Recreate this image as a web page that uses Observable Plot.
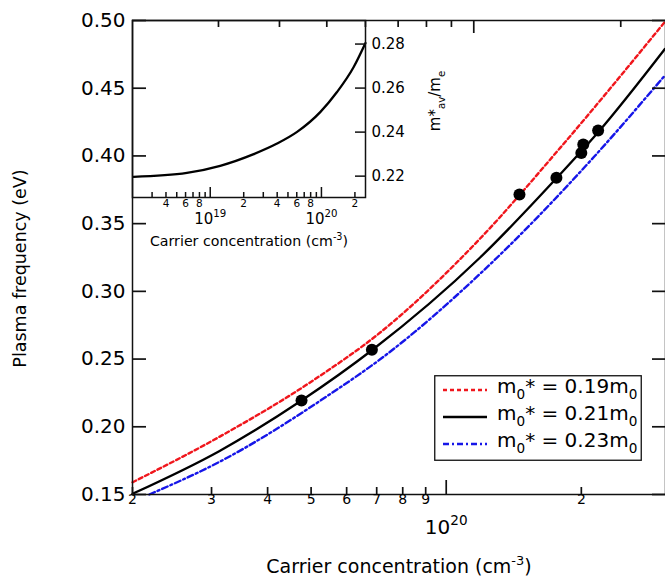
<!DOCTYPE html>
<html>
<head>
<meta charset="utf-8">
<script src="https://cdn.jsdelivr.net/npm/d3@7"></script>
<script src="https://cdn.jsdelivr.net/npm/@observablehq/plot@0.6"></script>
<style>
  html, body { margin: 0; padding: 0; background: white; overflow: hidden; }
  #wrap { position: relative; width: 665px; height: 577px; font-family: "DejaVu Sans", sans-serif; }
  #wrap > svg, #wrap > div { position: absolute; left: 0; top: 0; }
</style>
</head>
<body>
<div id="wrap"></div>
<script>
// ---------------- data ----------------
const nRed   = [2.0e19, 3.12e19, 5.05e19, 7.15e19, 1.19e20, 1.80e20, 3.07e20];
const vRed   = [0.159, 0.1925, 0.2342, 0.270, 0.339, 0.4065, 0.499];
const nBlack = [2.0e19, 3.12e19, 4.76e19, 6.83e19, 1.19e20, 1.76e20, 2.18e20, 3.07e20];
const vBlack = [0.1505, 0.182, 0.2194, 0.2565, 0.325, 0.3835, 0.4175, 0.479];
const nBlue  = [2.18e19, 3.12e19, 5.54e19, 7.15e19, 1.19e20, 2.13e20, 3.07e20];
const vBlue  = [0.150, 0.174, 0.2246, 0.2502, 0.313, 0.399, 0.4594];
const nDots  = [4.76e19, 6.83e19, 1.456e20, 1.76e20, 2.0e20, 2.02e20, 2.18e20];
const vDots  = [0.2194, 0.2569, 0.3716, 0.3839, 0.4022, 0.4085, 0.4188];

const masses = ["0.19", "0.21", "0.23"];

// main axes ticks
const yTicks = [0.15, 0.20, 0.25, 0.30, 0.35, 0.40, 0.45, 0.50];
const xMinor = [2e19, 3e19, 4e19, 5e19, 6e19, 7e19, 8e19, 9e19, 2e20];
const xMinorLabels = ["2", "3", "4", "5", "6", "7", "8", "9", "2"];
const xMajor = [1e20];
const xMajorLabels = ["10^{20}"];
const topMinor = [3e19, 4e19, 5e19, 6e19, 7e19, 8e19, 9e19, 2e20];
const topMajor = [1e20];

// inset
const nInset = [2.04e18, 6.17e18, 1.23e19, 2.46e19, 3.99e19, 6.04e19, 9.8e19, 1.38e20, 1.95e20, 2.49e20];
const vInset = [0.2197, 0.2215, 0.2247, 0.2300, 0.2348, 0.2401, 0.2492, 0.2582, 0.2696, 0.2805];
const insetYTicks = [0.22, 0.24, 0.26, 0.28];
const insetMinor = [3e18, 4e18, 5e18, 6e18, 7e18, 8e18, 9e18, 2e19, 3e19, 4e19, 5e19, 6e19, 7e19, 8e19, 9e19, 2e20];
const insetLabelTicks = [4e18, 6e18, 8e18, 2e19, 4e19, 6e19, 8e19, 2e20];
const insetLabels = ["4", "6", "8", "2", "4", "6", "8", "2"];
const insetMajor = [1e19, 1e20];
const insetMajorLabels = ["10^{19}", "10^{20}"];

// ---------------- helpers ----------------
const RED = "#f0161c", BLUE = "#1616e8", INK = "#111";
const FONT = "DejaVu Sans";
const toRows = (ns, vs) => ns.map((n, i) => ({n, v: vs[i]}));

function richify(root) {
  d3.select(root).selectAll("text").each(function () {
    const el = this;
    const t = el.textContent;
    if (!/[\^_]\{/.test(t)) return;
    const fs = parseFloat(getComputedStyle(el).fontSize) || 16;
    while (el.firstChild) el.removeChild(el.firstChild);
    const re = /([\^_])\{([^}]*)\}/g;
    let last = 0, m; const parts = [];
    while ((m = re.exec(t))) {
      if (m.index > last) parts.push({s: t.slice(last, m.index), k: ""});
      parts.push({s: m[2], k: m[1]});
      last = re.lastIndex;
    }
    if (last < t.length) parts.push({s: t.slice(last), k: ""});
    let cur = 0;
    for (const p of parts) {
      const target = p.k === "^" ? -0.42 * fs : p.k === "_" ? 0.28 * fs : 0;
      const ts = d3.select(el).append("tspan").text(p.s);
      if (target - cur !== 0) ts.attr("dy", (target - cur).toFixed(2));
      if (p.k) ts.attr("font-size", (0.68 * fs).toFixed(2));
      cur = target;
    }
  });
}

const wrap = document.getElementById("wrap");
const commonStyle = {fontFamily: FONT, background: "transparent", overflow: "visible", color: "black"};

// inward tick marks built from tickX / tickY spanning the frame, trimmed by insets
function ticksBottom(vals, len, plotH, sw) { return Plot.tickX(vals, {x: d => d, insetTop: plotH - len, stroke: INK, strokeWidth: sw}); }
function ticksTop(vals, len, plotH, sw) { return Plot.tickX(vals, {x: d => d, insetBottom: plotH - len, stroke: INK, strokeWidth: sw}); }
function ticksLeft(vals, len, plotW, sw) { return Plot.tickY(vals, {y: d => d, insetRight: plotW - len, stroke: INK, strokeWidth: sw}); }
function ticksRight(vals, len, plotW, sw) { return Plot.tickY(vals, {y: d => d, insetLeft: plotW - len, stroke: INK, strokeWidth: sw}); }

// ---------------- main plot ----------------
const M = {width: 665, height: 577, marginLeft: 132, marginRight: 0, marginTop: 20, marginBottom: 83};
const mainW = M.width - M.marginLeft - M.marginRight, mainH = M.height - M.marginTop - M.marginBottom;
const main = Plot.plot({
  ...M,
  x: {type: "log", domain: [2e19, 3.08e20], axis: null},
  y: {domain: [0.15, 0.50]},
  style: commonStyle,
  marks: [
    Plot.line(toRows(nRed, vRed), {x: "n", y: "v", stroke: RED, strokeWidth: 2.4, strokeDasharray: "4,3", curve: "monotone-x"}),
    Plot.line(toRows(nBlack, vBlack), {x: "n", y: "v", stroke: "black", strokeWidth: 2.3, curve: "monotone-x"}),
    Plot.line(toRows(nBlue, vBlue), {x: "n", y: "v", stroke: BLUE, strokeWidth: 2.4, strokeDasharray: "6,3,2,3", curve: "monotone-x"}),
    Plot.dot(toRows(nDots, vDots), {x: "n", y: "v", r: 6, fill: "black"}),
    Plot.frame({stroke: INK, strokeWidth: 1.5}),
    Plot.axisY(yTicks, {anchor: "left", tickSize: 0, tickPadding: 7, tickFormat: ".2f", fontSize: 20, label: null}),
    Plot.text(xMinor, {x: d => d, text: (d, i) => xMinorLabels[i], frameAnchor: "bottom", dy: 9, fontSize: 14}),
    Plot.text(xMajor, {x: d => d, text: (d, i) => xMajorLabels[i], frameAnchor: "bottom", dy: 39, fontSize: 20}),
    Plot.text(["Carrier concentration (cm^{-3})"], {text: d => d, frameAnchor: "bottom", dy: 78, fontSize: 19}),
    Plot.text(["Plasma frequency (eV)"], {text: d => d, frameAnchor: "left", textAnchor: "middle", rotate: -90, dx: -112, dy: 11, fontSize: 17.5}),
    ticksLeft(yTicks, 14, mainW, 1.7),
    ticksRight(yTicks, 13, mainW, 1.7),
    ticksBottom(xMinor, 7, mainH, 1.7),
    ticksBottom(xMajor, 14, mainH, 1.7)
  ]
});
wrap.appendChild(main);

// top axis (mirror ticks)
const topAxis = Plot.plot({
  ...M,
  x: {type: "log", domain: [2e19, 2.47e20], axis: null},
  style: commonStyle,
  marks: [
    ticksTop(topMinor, 7, mainH, 1.7),
    ticksTop(topMajor, 13, mainH, 1.7)
  ]
});
wrap.appendChild(topAxis);

// ---------------- inset ----------------
const I = {width: 470, height: 260, marginLeft: 132, marginRight: 105, marginTop: 20, marginBottom: 63};
const insW = I.width - I.marginLeft - I.marginRight, insH = I.height - I.marginTop - I.marginBottom;
const inset = Plot.plot({
  ...I,
  x: {type: "log", domain: [2e18, 2.49e20], axis: null},
  y: {domain: [0.2103, 0.2907]},
  style: commonStyle,
  marks: [
    Plot.line(toRows(nInset, vInset), {x: "n", y: "v", stroke: "black", strokeWidth: 2.3, curve: "monotone-x"}),
    Plot.frame({stroke: INK, strokeWidth: 1.5}),
    Plot.axisY(insetYTicks, {anchor: "right", tickSize: 0, tickPadding: 6, tickFormat: ".2f", fontSize: 15, label: null}),
    Plot.text(insetLabelTicks, {x: d => d, text: (d, i) => insetLabels[i], frameAnchor: "bottom", dy: 9, fontSize: 10.5}),
    Plot.text(insetMajor, {x: d => d, text: (d, i) => insetMajorLabels[i], frameAnchor: "bottom", dy: 26, fontSize: 15}),
    Plot.text(["Carrier concentration (cm^{-3})"], {text: d => d, frameAnchor: "bottom", dy: 48, fontSize: 14.2}),
    Plot.text(["m*_{av}/m_{e}"], {text: d => d, frameAnchor: "right", textAnchor: "middle", rotate: -90, dx: 70, dy: -8, fontSize: 15}),
    ticksBottom(insetMinor, 5, insH, 1.5),
    ticksBottom(insetMajor, 10, insH, 1.5),
    ticksRight(insetYTicks, 10, insW, 1.5)
  ]
});
wrap.appendChild(inset);

// ---------------- legend ----------------
const legW = 208, legH = 86, rowH = 27;
const styles = [
  {stroke: RED, dash: "4,3"},
  {stroke: "black", dash: null},
  {stroke: BLUE, dash: "6,3,2,3"}
];
const leg = d3.create("svg")
  .attr("width", legW).attr("height", legH)
  .style("position", "absolute").style("left", "434px").style("top", "375px")
  .style("font-family", FONT).style("overflow", "visible");
leg.append("rect").attr("x", 0.75).attr("y", 0.75).attr("width", legW - 1.5).attr("height", legH - 1.5)
  .attr("fill", "white").attr("stroke", "#111").attr("stroke-width", 1.3);
masses.forEach((m, i) => {
  const yb = 18 + i * rowH;
  leg.append("line").attr("x1", 9).attr("x2", 53).attr("y1", yb - 3).attr("y2", yb - 3)
    .attr("stroke", styles[i].stroke).attr("stroke-width", 2.3)
    .attr("stroke-dasharray", styles[i].dash);
  leg.append("text").attr("x", 63).attr("y", yb).attr("font-size", 20).attr("fill", "black")
    .text(`m_{0}* = ${m}m_{0}`);
});
wrap.appendChild(leg.node());

richify(wrap);
</script>
</body>
</html>
